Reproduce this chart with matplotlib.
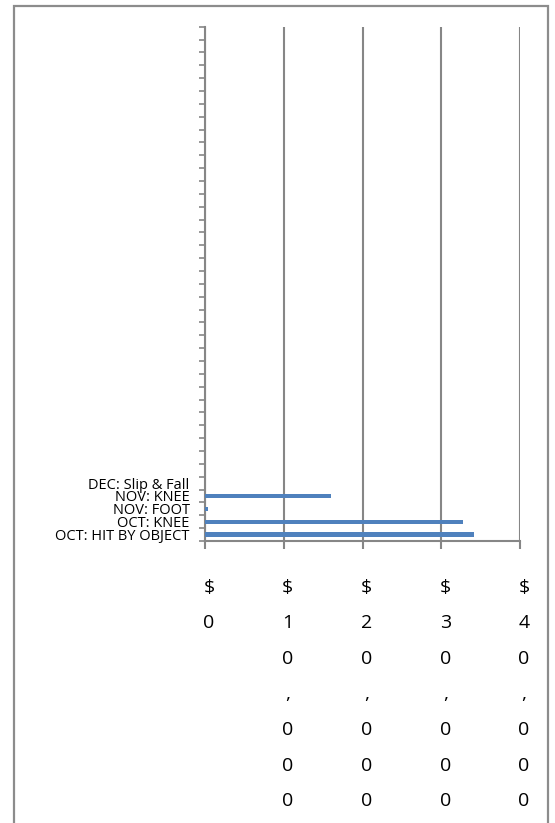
import matplotlib.pyplot as plt
from matplotlib import transforms
import numpy as np

# claims, bottom to top; the rest of the rows are empty slots
claims = ['OCT: HIT BY OBJECT', 'OCT: KNEE', 'NOV: FOOT', 'NOV: KNEE', 'DEC: Slip & Fall']
costs = [34200, 32700, 350, 16050, 0]
n_rows = 40
labels = claims + [''] * (n_rows - len(claims))
values = costs + [0] * (n_rows - len(costs))
xticks = [0, 10000, 20000, 30000, 40000]

grey = '#868686'

fig = plt.figure(figsize=(5.55, 8.23), dpi=100)
ax = fig.add_axes([205 / 555, 1 - 541 / 823, 315 / 555, 514.3 / 823])

y = np.arange(n_rows)
ax.barh(y, values, height=0.33, color='#4F81BD', zorder=3)

ax.set_ylim(-0.5, n_rows - 0.5)
ax.set_xlim(0, 40000)

# category labels sit at the middle of each row, ticks on the row boundaries
ax.set_yticks(y)
ax.set_yticklabels(labels, fontsize=10.5, family='Open Sans')
ax.tick_params(axis='y', which='major', length=0, pad=11)
ax.set_yticks(np.arange(n_rows + 1) - 0.5, minor=True)
ax.tick_params(axis='y', which='minor', length=4, width=1.2, color=grey)

# dollar labels stacked one character per line
ax.set_xticks(xticks)
ax.set_xticklabels(['\n'.join('${:,}'.format(v)) for v in xticks],
                   fontsize=14, family='Open Sans', linespacing=2.26,
                   ha='center', va='top')
ax.tick_params(axis='x', length=6, width=1.5, color=grey, pad=21)
shift = transforms.ScaledTranslation(4 / 100, 0, fig.dpi_scale_trans)
for lbl in ax.get_xticklabels():
    lbl.set_transform(lbl.get_transform() + shift)

ax.grid(axis='x', color=grey, linewidth=1.5, zorder=1)
for side in ['top', 'right']:
    ax.spines[side].set_visible(False)
for side in ['left', 'bottom']:
    ax.spines[side].set_color(grey)
    ax.spines[side].set_linewidth(1.5)

# outer chart frame (bottom edge falls outside the image)
frame = plt.Rectangle((13.5 / 555, -0.05), (547.5 - 13.5) / 555, 1.05 - 6.5 / 823,
                      transform=fig.transFigure, fill=False, edgecolor='#8c8c8c',
                      linewidth=1.6, zorder=10)
fig.patches.append(frame)

fig.savefig('out.png', dpi=100)
